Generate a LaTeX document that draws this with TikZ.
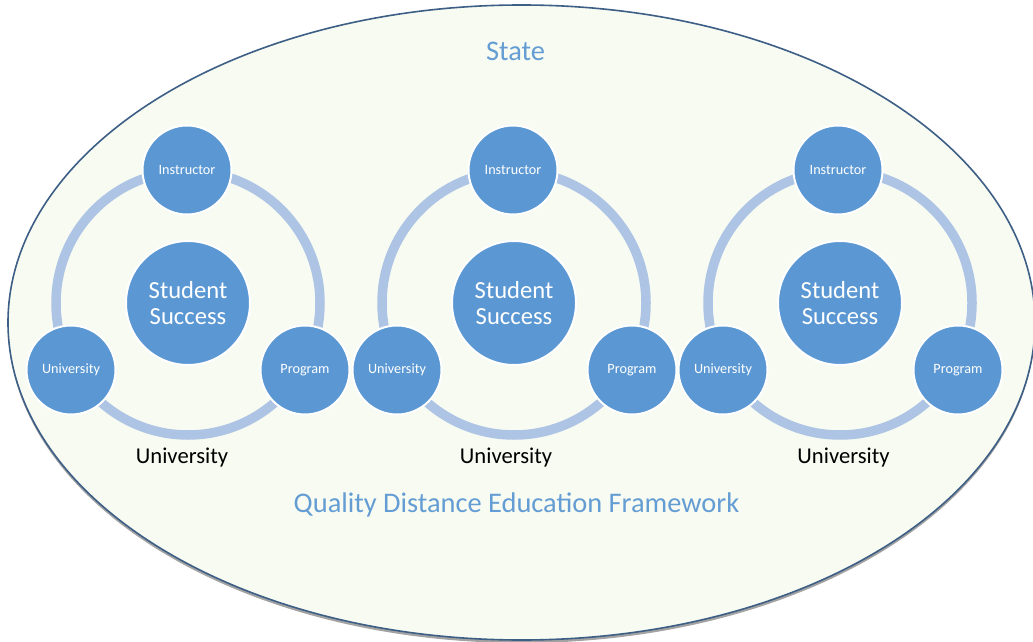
\documentclass[tikz,border=0pt]{standalone}
\usepackage{fontspec}
\setmainfont{Carlito}
\usepackage{xcolor}
\usetikzlibrary{shadows}
\definecolor{circblue}{HTML}{5B98D3}
\definecolor{ringblue}{HTML}{AEC4E5}
\definecolor{headblue}{HTML}{649DD3}
\definecolor{stateedge}{HTML}{3D5F86}
\definecolor{statefill}{HTML}{F7FBF2}

\begin{document}
\begin{tikzpicture}[x=0.5pt,y=-0.5pt]
  \tikzstyle{statebox}=[draw=stateedge,line width=0.8pt,fill=statefill,
    drop shadow={shadow xshift=0pt,shadow yshift=-1.5pt,opacity=0.6,fill=black!60}]
  \tikzstyle{hub}=[circle,fill=circblue,draw=white,line width=1pt,text=white,
    minimum size=62pt,inner sep=0pt,align=center,font=\fontsize{12.3}{13}\selectfont]
  \tikzstyle{spoke}=[circle,fill=circblue,draw=white,line width=1pt,text=white,
    minimum size=44.5pt,inner sep=0pt,font=\fontsize{7.1}{8}\selectfont]
  \tikzstyle{ring}=[draw=ringblue,line width=4.75pt]
  \tikzstyle{unitext}=[anchor=base,text=black,font=\fontsize{11.3}{13}\selectfont]
  \tikzstyle{heading}=[anchor=base,text=headblue,font=\fontsize{14.2}{16}\selectfont]

  \useasboundingbox (0,0) rectangle (1033,642);
  \fill[white] (0,0) rectangle (1033,642);
  \path[statebox] (521.5,322.5) ellipse[x radius=256.75pt,y radius=158.75pt];

  \node[heading] (state) at (515.5,61) {State};
  \node[heading] (frame) at (516.5,512) {Quality Distance Education Framework};

  \node[hub] (S1) at (188,303) {Student\\Success};
  \node[hub] (S2) at (514,303) {Student\\Success};
  \node[hub] (S3) at (840,303) {Student\\Success};

  \draw[ring] (S1.center) circle[radius=66pt];
  \draw[ring] (S2.center) circle[radius=66pt];
  \draw[ring] (S3.center) circle[radius=66pt];

  \node[spoke] (I1) at (187,170) {Instructor};
  \node[spoke] (U1) at (71,370)  {University};
  \node[spoke] (P1) at (305,370) {Program};
  \node[unitext] (L1) at (182,463) {University};

  \node[spoke] (I2) at (513,170) {Instructor};
  \node[spoke] (U2) at (397,370) {University};
  \node[spoke] (P2) at (632,370) {Program};
  \node[unitext] (L2) at (506,463) {University};

  \node[spoke] (I3) at (838,170) {Instructor};
  \node[spoke] (U3) at (723,370) {University};
  \node[spoke] (P3) at (958,370) {Program};
  \node[unitext] (L3) at (843.5,463) {University};
\end{tikzpicture}
\end{document}
